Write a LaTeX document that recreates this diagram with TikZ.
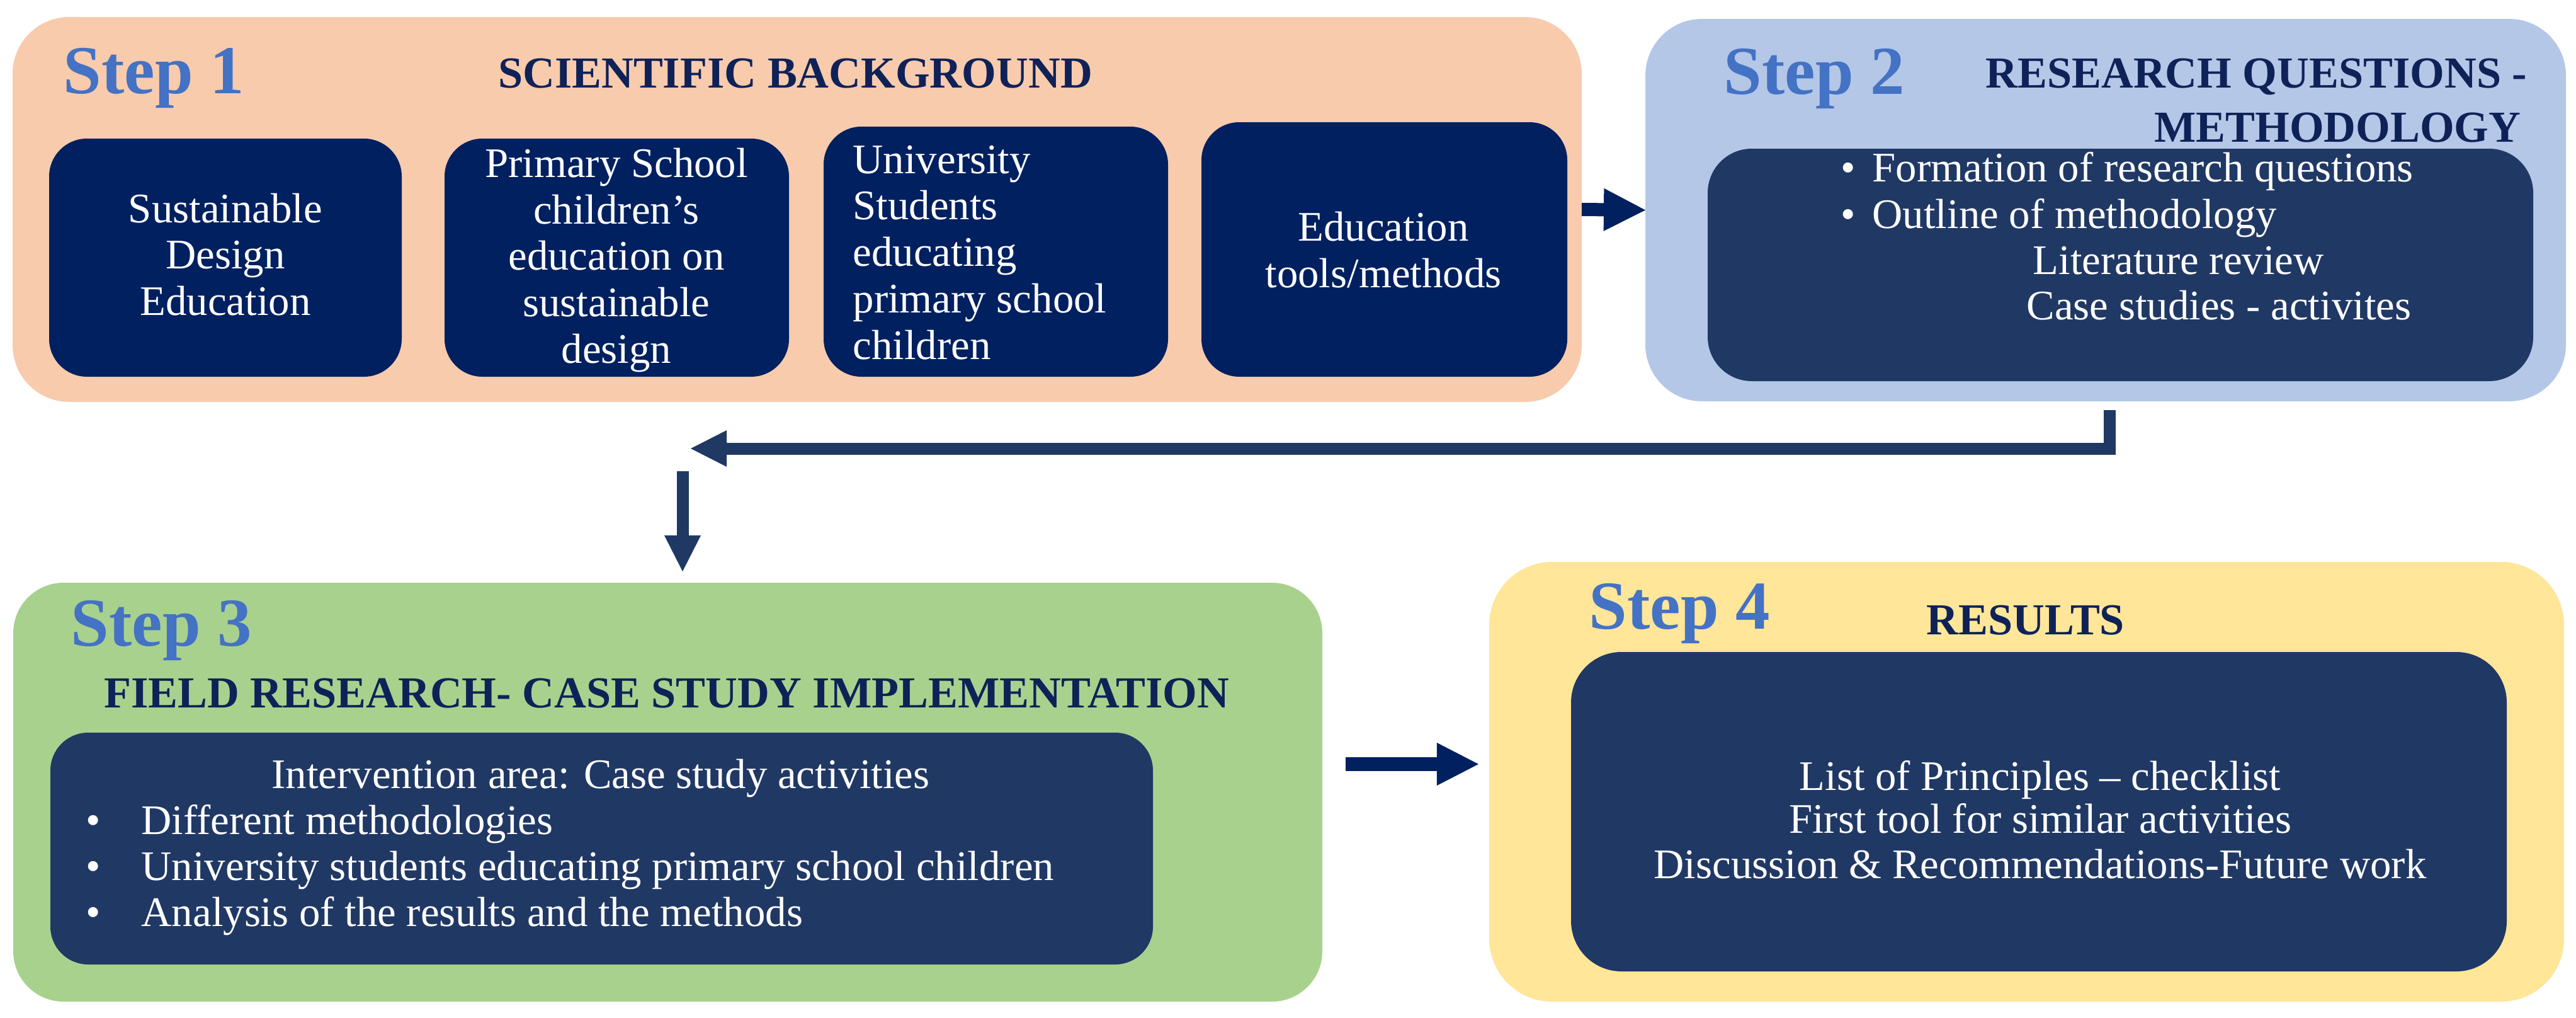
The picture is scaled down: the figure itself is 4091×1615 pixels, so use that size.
\documentclass[tikz,border=0pt]{standalone}
\usepackage{fontspec}
\setmainfont{Liberation Serif}
\usetikzlibrary{arrows.meta,fit}
\definecolor{peach}{HTML}{F8CBAD}
\definecolor{lblue}{HTML}{B4C7E7}
\definecolor{lgreen}{HTML}{A9D18E}
\definecolor{lyellow}{HTML}{FFE699}
\definecolor{navyA}{HTML}{002060}
\definecolor{navyB}{HTML}{203864}
\definecolor{titlenavy}{HTML}{0F2258}
\definecolor{stepblue}{HTML}{4472C4}
\begin{document}
\begin{tikzpicture}[x=0.01cm,y=-0.01cm,
  outerbox/.style={inner sep=0pt,outer sep=0pt,draw=none},
  innerA/.style={inner sep=0pt,outer sep=0pt,draw=none,fill=navyA,rounded corners=0.6cm},
  innerB/.style={inner sep=0pt,outer sep=0pt,draw=none,fill=navyB,rounded corners=0.7cm},
  steplabel/.style={inner sep=0pt,text=stepblue,font=\fontsize{31}{36}\selectfont\bfseries},
  titletxt/.style={inner sep=0pt,text=titlenavy,font=\fontsize{20}{24.5}\selectfont\bfseries},
  bodytxt/.style={inner sep=0pt,text=white,font=\fontsize{19}{21}\selectfont},
  bigarrow/.style={draw=navyA,line width=0.21cm,-{Triangle[length=0.66cm,width=0.68cm,line width=0pt]}},
  thinarrow/.style={draw=navyB,line width=0.19cm,line join=miter,-{Triangle[length=0.57cm,width=0.58cm,line width=0pt]}}
]
\useasboundingbox (0,0) rectangle (4091,1615);

% outer step boxes
\node[outerbox,fill=peach,rounded corners=0.9cm,fit={(20,27) (2512,638)}] (s1) {};
\node[outerbox,fill=lblue,rounded corners=0.9cm,fit={(2613,30) (4075,637)}] (s2) {};
\node[outerbox,fill=lgreen,rounded corners=0.8cm,fit={(21,925) (2100,1590)}] (s3) {};
\node[outerbox,fill=lyellow,rounded corners=1.0cm,fit={(2365,892) (4072,1590)}] (s4) {};

% inner boxes
\node[innerA,fit={(78,220) (638,598)}] (s1a) {};
\node[innerA,fit={(706,220) (1253,598)}] (s1b) {};
\node[innerA,fit={(1308,201) (1855,598)}] (s1c) {};
\node[innerA,fit={(1908,194) (2489,598)}] (s1d) {};
\node[innerB,fit={(2712,236) (4023,605)}] (s2in) {};
\node[innerB,rounded corners=0.6cm,fit={(80,1163) (1831,1531)}] (s3in) {};
\node[innerB,rounded corners=0.8cm,fit={(2495,1035) (3981,1542)}] (s4in) {};

% step labels
\node[steplabel,anchor=base west] (l1) at (100,148) {Step 1};
\node[steplabel,anchor=base west] (l2) at (2737,149) {Step 2};
\node[steplabel,anchor=base west] (l3) at (112,1025) {Step 3};
\node[steplabel,anchor=base west] (l4) at (2523,998) {Step 4};

% titles
\node[titletxt,anchor=base] (t1) at (1263,139) {SCIENTIFIC BACKGROUND};
\node[titletxt,anchor=base east] (t2a) at (4014,139) {RESEARCH QUESTIONS -};
\node[titletxt,anchor=base east] (t2b) at (4004,225) {METHODOLOGY};
\node[titletxt,anchor=base] (t3) at (1059,1123) {FIELD RESEARCH- CASE STUDY IMPLEMENTATION};
\node[titletxt,anchor=base] (t4) at (3217,1007) {RESULTS};

% step 1 texts
\node[bodytxt,align=center] (x1a) at (358,404) {Sustainable\\Design\\Education};
\node[bodytxt,align=center] (x1b) at (979,413) {Primary School\\children’s\\education on\\sustainable\\design};
\node[bodytxt,align=left,anchor=west] (x1c) at (1354,401) {University\\Students\\educating\\primary school\\children};
\node[bodytxt,align=center] (x1d) at (2197,397) {Education\\tools/methods};

% step 2 texts
\node[bodytxt,anchor=base west] (x2a) at (2923,288) {\makebox[0.5cm][l]{\textbullet}Formation of research questions};
\node[bodytxt,anchor=base west] (x2b) at (2923,362) {\makebox[0.5cm][l]{\textbullet}Outline of methodology};
\node[bodytxt,anchor=base west] (x2c) at (3228,435) {Literature review};
\node[bodytxt,anchor=base west] (x2d) at (3218,507) {Case studies - activites};

% step 3 texts
\node[bodytxt,anchor=base] (x3a) at (954,1251) {Intervention area: Case study activities};
\node[bodytxt,anchor=base west] (x3b) at (136,1324) {\makebox[0.88cm][l]{\textbullet}Different methodologies};
\node[bodytxt,anchor=base west] (x3c) at (136,1397) {\makebox[0.88cm][l]{\textbullet}University students educating primary school children};
\node[bodytxt,anchor=base west] (x3d) at (136,1470) {\makebox[0.88cm][l]{\textbullet}Analysis of the results and the methods};

% step 4 texts
\node[bodytxt,anchor=base] (x4a) at (3240,1254) {List of Principles – checklist};
\node[bodytxt,anchor=base] (x4b) at (3240,1322) {First tool for similar activities};
\node[bodytxt,anchor=base] (x4c) at (3240,1394) {Discussion \& Recommendations-Future work};

% connectors
\coordinate (c2a) at (3350,651);
\coordinate (c2b) at (1097,712);
\coordinate (c3a) at (1084,748);
\coordinate (c3b) at (1084,907);
\coordinate (c4a) at (2137,1213);
\coordinate (c4b) at (2348,1213);

\draw[bigarrow] (s1.east) -- (s2.west);
\draw[thinarrow] (c2a) |- (c2b);
\draw[thinarrow] (c3a) -- (c3b);
\draw[bigarrow,line width=0.22cm] (c4a) -- (c4b);
\end{tikzpicture}
\end{document}
